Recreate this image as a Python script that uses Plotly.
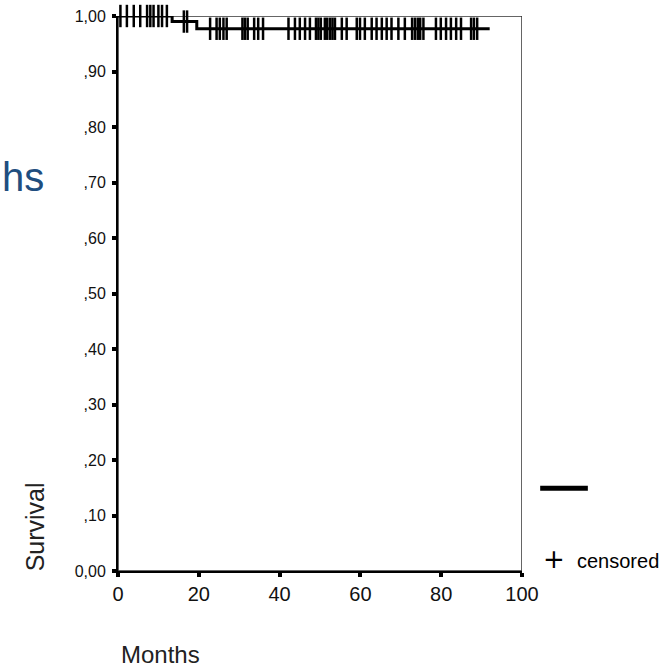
import plotly.graph_objects as go

# Kaplan-Meier step curve (event times in months and survival after each step)
step_times = [0, 13.4, 19.5, 92.0]
step_surv = [1.00, 0.990, 0.977, 0.977]

# Censored observation times (months)
censored_times = [0.6, 2.2, 3.9, 5.5, 7.2, 8.0, 8.8, 10.0, 10.9, 12.1,
                  16.3, 17.1,
                  22.8, 24.4, 25.2, 26.1, 26.9, 30.8, 31.4, 32.1, 33.7, 34.7, 35.9,
                  42.2, 43.8, 45.0, 46.3, 47.5, 49.0, 49.6, 50.2, 51.2, 51.8, 52.5,
                  53.1, 53.7, 55.4, 56.6, 59.1, 59.9, 61.1, 62.8, 64.0, 65.3, 66.5,
                  67.7, 69.4, 71.0, 72.8, 73.5, 74.2, 74.8, 75.6, 78.7, 79.9, 81.2,
                  82.4, 83.7, 84.9, 87.4, 88.1, 88.9]

y_ticks = [0, 0.1, 0.2, 0.3, 0.4, 0.5, 0.6, 0.7, 0.8, 0.9, 1.0]
y_ticklabels = ["0,00", ",10", ",20", ",30", ",40", ",50", ",60", ",70", ",80", ",90", "1,00"]
x_ticks = [0, 20, 40, 60, 80, 100]
x_ticklabels = ["0", "20", "40", "60", "80", "100"]


def surv_at(t):
    s = step_surv[0]
    for tt, ss in zip(step_times, step_surv):
        if t >= tt:
            s = ss
    return s


censored_surv = [surv_at(t) for t in censored_times]

SANS = "Liberation Sans, Arial, sans-serif"

fig = go.Figure()
fig.add_trace(go.Scatter(x=step_times, y=step_surv, mode="lines",
                         line=dict(shape="hv", color="black", width=3),
                         cliponaxis=False, showlegend=False, hoverinfo="skip"))
fig.add_trace(go.Scatter(x=censored_times, y=censored_surv, mode="markers",
                         marker=dict(symbol="line-ns", size=16, color="black",
                                     line=dict(color="black", width=2.5)),
                         cliponaxis=False, showlegend=False, hoverinfo="skip"))

# plot frame
fig.add_shape(type="rect", xref="x", yref="y", x0=0, x1=100, y0=0, y1=1,
              line=dict(color="#333", width=1.5), layer="below")

fig.update_xaxes(range=[0, 100], tickvals=x_ticks, ticktext=x_ticklabels,
                 showgrid=False, zeroline=False, showline=True, linecolor="black",
                 linewidth=2, ticks="outside", ticklen=4, tickwidth=4, tickcolor="black",
                 tickfont=dict(family=SANS, size=20, color="#111"), automargin=False)
fig.update_yaxes(range=[0, 1], tickvals=y_ticks, ticktext=y_ticklabels,
                 showgrid=False, zeroline=False, showline=True, linecolor="black",
                 linewidth=2, ticks="outside", ticklen=4, tickwidth=4, tickcolor="black",
                 ticklabelstandoff=3,
                 tickfont=dict(family=SANS, size=16, color="#111"), automargin=False)

annotations = [
    dict(text="hs", x=-0.177, y=0.71, xref="paper", yref="paper", xanchor="right",
         yanchor="middle", showarrow=False,
         font=dict(family=SANS, size=40, color="#1f4e7f")),
    dict(text="Survival", x=-0.205, y=0.079, xref="paper", yref="paper",
         xanchor="center", yanchor="middle", textangle=-90, showarrow=False,
         font=dict(family=SANS, size=25, color="#222")),
    dict(text="Months", x=0.104, y=-0.151, xref="paper", yref="paper",
         xanchor="center", yanchor="middle", showarrow=False,
         font=dict(family=SANS, size=24, color="#222")),
    dict(text="+", x=1.079, y=0.022, xref="paper", yref="paper",
         xanchor="center", yanchor="middle", showarrow=False,
         font=dict(family="DejaVu Sans, sans-serif", size=26, color="black")),
    dict(text="censored", x=1.13, y=0.018, xref="paper", yref="paper",
         xanchor="left", yanchor="middle", showarrow=False,
         font=dict(family=SANS, size=20, color="black")),
]
fig.update_layout(annotations=annotations)

# legend line sample
fig.add_shape(type="line", xref="paper", yref="paper", x0=1.045, x1=1.163,
              y0=0.149, y1=0.149, line=dict(color="black", width=5))

fig.update_layout(width=671, height=669,
                  margin=dict(l=118, r=149, t=16, b=98, pad=0),
                  paper_bgcolor="white", plot_bgcolor="white")

fig.write_html("out.html", config={"displayModeBar": False},
               post_script="document.body.style.margin='0';document.body.style.overflow='hidden';")
